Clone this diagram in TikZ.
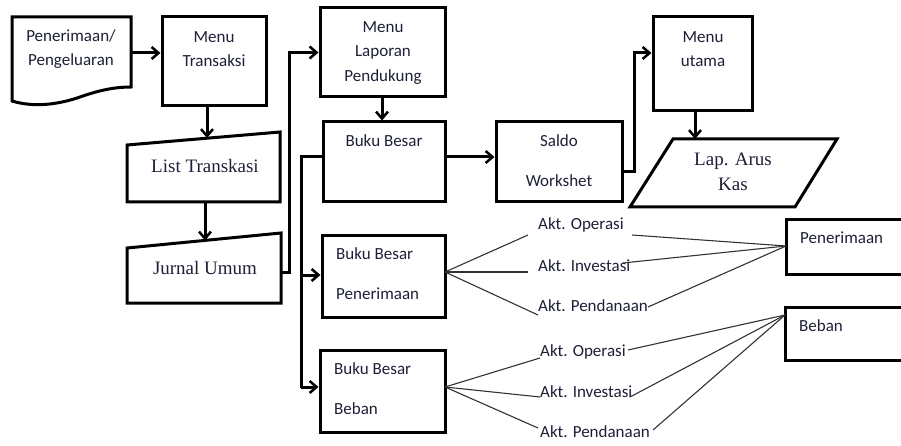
\documentclass[tikz,border=0pt]{standalone}
\usepackage{fontspec}
\setmainfont{Carlito}
\newfontfamily\serifT{Liberation Serif}
\usetikzlibrary{arrows.meta}
\definecolor{ink}{HTML}{1E2038}
\definecolor{thin}{HTML}{333333}
\tikzset{
  box/.style={draw=black, line width=3pt, rectangle, inner sep=0pt},
  shapeline/.style={draw=black, line width=3pt, line join=miter},
  sans/.style={font=\fontsize{17}{24.5}\selectfont, text=ink, align=center, inner sep=0pt},
  sansl/.style={font=\fontsize{17}{24.5}\selectfont, text=ink, anchor=west, inner sep=0pt},
  serif/.style={font=\serifT\fontsize{19}{25}\selectfont, text=ink, align=center, inner sep=0pt},
  arr/.style={draw=black, line width=3pt, -{Straight Barb[length=7pt,width=12pt,line width=2.5pt]}},
  conn/.style={draw=black, line width=3pt},
  fan/.style={draw=thin, line width=1.1pt},
}
\begin{document}
\begin{tikzpicture}[x=1pt,y=-1pt]
\clip (0,0) rectangle (901,446);
\fill[white] (0,0) rectangle (901,446);

% document shape
\draw[shapeline] (12,17) -- (131,17) -- (131,87) .. controls (115,87) and (100,90) .. (80,97)
  .. controls (60,104) and (35,108) .. (12,101) -- cycle;
\node[sans] (docT) at (71,49) {Penerimaan/\\Pengeluaran};
\coordinate (docR) at (131,53);

% Menu Transaksi
\node[box, minimum width=104, minimum height=89] (mt) at (214,61.5) {};
\node[sans] (mtT) at (214,49) {Menu\\Transaksi};

% List Transkasi (manual input)
\draw[shapeline] (127,145) -- (280,132) -- (280,202) -- (127,202) -- cycle;
\node[serif] (ltT) at (205,166) {List Transkasi};
\coordinate (ltTop) at (207,138);
\coordinate (ltBot) at (205,202);

% Jurnal Umum (manual input)
\draw[shapeline] (127,248) -- (281,233) -- (281,303) -- (127,303) -- cycle;
\node[serif] (juT) at (205,268) {Jurnal Umum};
\coordinate (juTop) at (205,240.5);
\coordinate (juR) at (281,272);
\coordinate (juK) at (289,272);

% Menu Laporan Pendukung
\node[box, minimum width=125, minimum height=89] (ml) at (382.5,52.5) {};
\node[sans] (mlT) at (383,53) {Menu\\Laporan\\Pendukung};

% Buku Besar
\node[box, minimum width=122, minimum height=80] (bb) at (384,162) {};
\node[sans] (bbT) at (384,141) {Buku Besar};

% Buku Besar Penerimaan
\node[box, minimum width=123, minimum height=82] (bbp) at (383.5,276) {};
\node[sansl] (bbpT1) at (336,254) {Buku Besar};
\node[sansl] (bbpT2) at (336,294) {Penerimaan};

% Buku Besar Beban
\node[box, minimum width=125, minimum height=82] (bbb) at (382.5,391) {};
\node[sansl] (bbbT1) at (334,369) {Buku Besar};
\node[sansl] (bbbT2) at (334,409) {Beban};

% Saldo Workshet
\node[box, minimum width=126, minimum height=80] (sw) at (559,162) {};
\node[sans] (swT1) at (559,141) {Saldo};
\node[sans] (swT2) at (559,181) {Workshet};

% Menu utama
\node[box, minimum width=99, minimum height=94] (mu) at (702.5,64) {};
\node[sans] (muT) at (703,49) {Menu\\utama};

% Lap. Arus Kas (parallelogram)
\draw[shapeline] (673,139) -- (837,139) -- (795,207) -- (630,207) -- cycle;
\node[serif] (lakT) at (733,172) {Lap. Arus\\Kas};
\coordinate (lakTop) at (695,139);

% right boxes (cut off by the right margin)
\node[box, minimum width=180, minimum height=54] (pr) at (876,247) {};
\node[sansl] (prT) at (800,238) {Penerimaan};
\node[box, minimum width=180, minimum height=53] (bn) at (875,333.5) {};
\node[sansl] (bnT) at (799,326) {Beban};

% Akt labels
\node[sansl] (ao1) at (538,225) {Akt. Operasi};
\node[sansl] (ai1) at (538,266) {Akt. Investasi};
\node[sansl] (ap1) at (538,306) {Akt. Pendanaan};
\node[sansl] (ao2) at (540,352) {Akt. Operasi};
\node[sansl] (ai2) at (540,392) {Akt. Investasi};
\node[sansl] (ap2) at (540,432) {Akt. Pendanaan};

% thick connectors
\draw[arr] (docR) -- (docR -| mt.west);
\draw[arr] (mt.south -| ltTop) -- (ltTop);
\draw[arr] (ltBot) -- (juTop);
\draw[arr] (juR) -- (juK) -- (juK |- ml.west) -- (ml.west);
\draw[arr] (ml.south -| 382,0) -- (bb.north -| 382,0);
\coordinate (bbL) at (323,157);
\coordinate (bbK) at (301,157);
\draw[conn] (bbL) -- (bbK) -- (301,388);
\draw[arr] (301,387) -- (bbb.west |- 0,387);
\draw[arr] (301,275) -- (bbp.west |- 0,275);
\draw[arr] (bb.east |- 0,157) -- (sw.west |- 0,157);
\coordinate (swR) at (622,172);
\coordinate (swK) at (634,172);
\draw[arr] (swR) -- (swK) -- (swK |- 0,53) -- (mu.west |- 0,53);
\draw[arr] (mu.south -| lakTop) -- (lakTop);

% fan lines
\coordinate (bbpR) at (445,272);
\coordinate (bbbR) at (445,387);
\draw[fan] (bbpR) -- (528,235);
\draw[fan] (bbpR) -- (528,272);
\draw[fan] (bbpR) -- (538,315);
\draw[fan] (bbbR) -- (540,358);
\draw[fan] (bbbR) -- (540,397);
\draw[fan] (bbbR) -- (538,428);
\coordinate (prL) at (786,246);
\coordinate (bnL) at (785,315);
\draw[fan] (632,235) -- (prL);
\draw[fan] (623,263) -- (prL);
\draw[fan] (648,307) -- (prL);
\draw[fan] (628,350) -- (bnL);
\draw[fan] (630,397) -- (bnL);
\draw[fan] (653,430) -- (bnL);
\end{tikzpicture}
\end{document}
